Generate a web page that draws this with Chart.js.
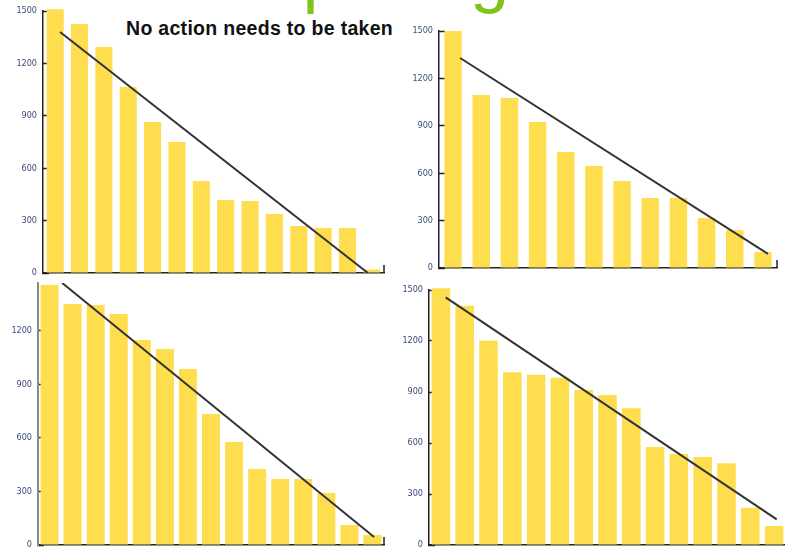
<!DOCTYPE html>
<html lang="en">
<head>
<meta charset="UTF-8">
<title>Trend bar charts</title>
<script src="https://cdn.jsdelivr.net/npm/chart.js"></script>
<style>
    html, body { margin: 0; padding: 0; width: 785px; height: 551px; overflow: hidden; background: #fff; }
    .box { position: absolute; }
    #heading { position: absolute; left: 256px; top: -60px; font: 70px/70px 'Liberation Sans', Arial, sans-serif; color: #7fc31c; white-space: nowrap; }
    #note { position: absolute; left: 126px; top: 18px; font: bold 19.5px/20px 'Liberation Sans', Arial, sans-serif; letter-spacing: 0.3px; color: #111; white-space: nowrap; }
</style>
</head>
<body>
<div id="heading">Spacing</div>
<div id="note">No action needs to be taken</div>
<div class="box" style="left:0px;top:0px"><canvas id="c1" width="390" height="285"></canvas></div>
<div class="box" style="left:395px;top:20px"><canvas id="c2" width="390" height="255"></canvas></div>
<div class="box" style="left:0px;top:270px"><canvas id="c3" width="392" height="281"></canvas></div>
<div class="box" style="left:395px;top:280px"><canvas id="c4" width="395" height="271"></canvas></div>
<script>
    // bar heights
    var values1 = [1510, 1426, 1294, 1065, 864, 750, 527, 418, 412, 338, 269, 258, 258, 20];
    var values2 = [1500, 1095, 1076, 924, 734, 646, 551, 443, 443, 316, 240, 101];
    var values3 = [1456, 1350, 1344, 1294, 1148, 1098, 986, 734, 577, 426, 370, 370, 291, 112, 56];
    var values4 = [1510, 1408, 1202, 1016, 1002, 984, 912, 882, 804, 576, 535, 518, 481, 219, 112];

    // trend line ends: [bar index, value]
    var trend1 = [[0.2, 1380], [12.84, 0]];
    var trend2 = [[0.25, 1329], [11.18, 89]];
    var trend3 = [[0.55, 1467], [14.07, 45]];
    var trend4 = [[0.2, 1457], [14.11, 151]];

    var ticksFull = [0, 300, 600, 900, 1200, 1500];
    var ticksShort = [0, 300, 600, 900, 1200];

    var barColor = '#fede4f';

    // little upward mark at the right end of the x axis
    var axisEnd = {
        id: 'axisEnd',
        afterDraw: function(chart) {
            var a = chart.chartArea, ctx = chart.ctx;
            ctx.save();
            ctx.strokeStyle = '#222';
            ctx.lineWidth = 1.5;
            ctx.beginPath();
            ctx.moveTo(a.right, a.bottom);
            ctx.lineTo(a.right, a.bottom - 8);
            ctx.stroke();
            ctx.restore();
        }
    };

    function makeChart(id, values, trend, o) {
        var labels = values.map(function(v, i) { return String(i + 1); });
        return new Chart(document.getElementById(id), {
            type: 'bar',
            data: {
                labels: labels,
                datasets: [{
                    type: 'line',
                    data: trend.map(function(p) { return {x: p[0], y: p[1]}; }),
                    xAxisID: 'xl',
                    borderColor: '#333',
                    borderWidth: 2,
                    pointRadius: 0,
                    tension: 0,
                    order: 1
                }, {
                    data: values,
                    backgroundColor: barColor,
                    grouped: false,
                    categoryPercentage: 1,
                    barPercentage: o.bar,
                    clip: false,
                    order: 2
                }]
            },
            options: {
                responsive: false,
                animation: false,
                layout: { padding: { top: o.top, right: o.right, left: 0, bottom: 0 } },
                plugins: { legend: { display: false }, tooltip: { enabled: false } },
                scales: {
                    x: {
                        grid: { display: false },
                        border: { color: '#222', width: 1.5 },
                        ticks: { display: false },
                        afterFit: function(s) { s.height = o.xh; }
                    },
                    xl: { type: 'linear', display: false, offset: false, grid: { offset: false }, min: -0.5, max: values.length - 0.5 },
                    y: {
                        min: 0,
                        max: o.max,
                        grid: { drawOnChartArea: false, tickLength: -6, tickColor: '#222', tickWidth: 1.5 },
                        border: { color: o.axis, width: o.axisW },
                        ticks: {
                            padding: 12,
                            color: '#3b4a7a',
                            font: { family: "'DejaVu Sans Condensed', 'Liberation Sans Narrow', 'Liberation Sans', sans-serif", size: 9 },
                            callback: function(v) { return String(v); }
                        },
                        afterBuildTicks: function(s) { s.ticks = o.ticks.map(function(v) { return {value: v}; }); },
                        afterFit: function(s) {
                            s.width = o.yw;
                            s.paddingTop = 0;
                            s.paddingBottom = 0;
                        }
                    }
                }
            },
            plugins: [axisEnd]
        });
    }

    makeChart('c1', values1, trend1, {max: 1500, ticks: ticksFull, bar: 0.7, top: 11, right: 6, xh: 12, yw: 43, axis: '#222', axisW: 1.5});
    makeChart('c2', values2, trend2, {max: 1500, ticks: ticksFull, bar: 0.62, top: 11, right: 8, xh: 7, yw: 44, axis: '#222', axisW: 1.5});
    makeChart('c3', values3, trend3, {max: 1467, ticks: ticksShort, bar: 0.78, top: 13, right: 8, xh: 6, yw: 38, axis: '#8a8a8a', axisW: 2});
    makeChart('c4', values4, trend4, {max: 1500, ticks: ticksFull, bar: 0.78, top: 10, right: 4, xh: 6, yw: 34, axis: '#222', axisW: 1.5});
</script>
</body>
</html>
